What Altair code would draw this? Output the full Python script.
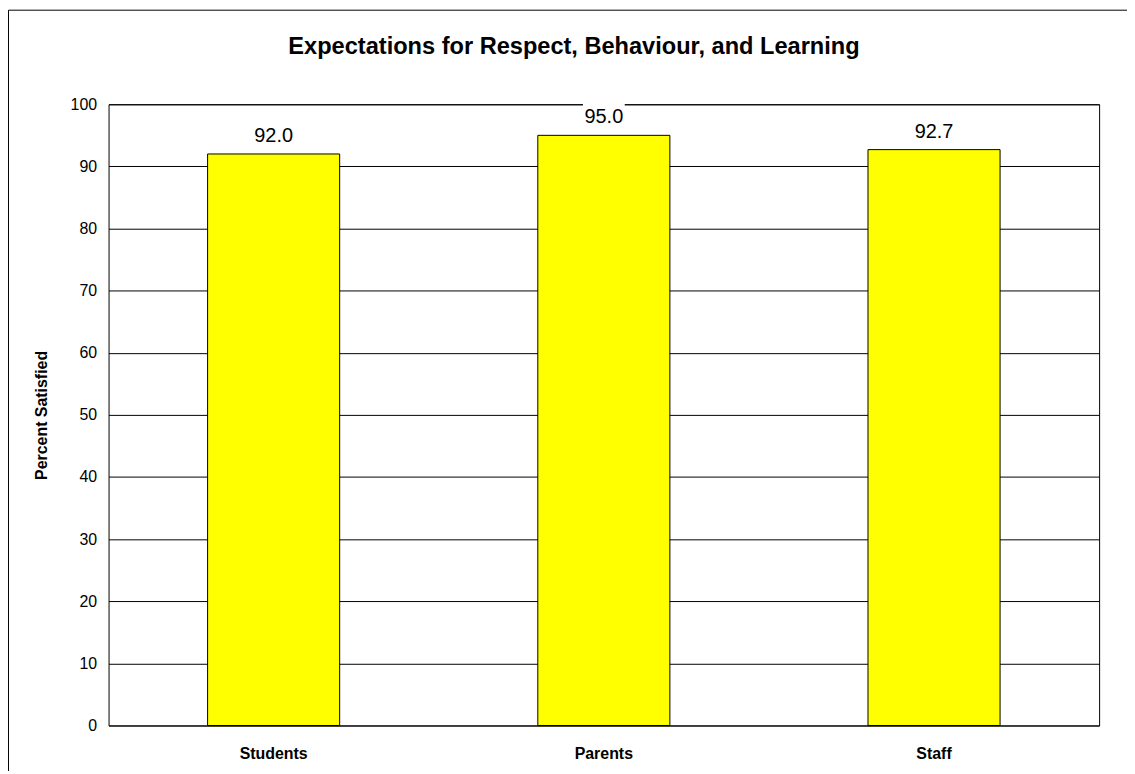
import altair as alt
import pandas as pd

groups = ["Students", "Parents", "Staff"]
satisfied = [92.0, 95.0, 92.7]
y_ticks = list(range(0, 101, 10))

df = pd.DataFrame({"group": groups, "pct": satisfied})

FONT = "Liberation Sans"

x_enc = alt.X(
    "group:N", sort=groups, title=None,
    scale=alt.Scale(paddingInner=0.6, paddingOuter=0.3),
    axis=alt.Axis(labelAngle=0, labelFont=FONT, labelFontSize=16, labelFontWeight="bold",
                  labelColor="black", labelPadding=20, ticks=False, tickSize=0, domain=False)
)
y_enc = alt.Y(
    "pct:Q", scale=alt.Scale(domain=[0, 100], nice=False),
    axis=alt.Axis(values=y_ticks, title="Percent Satisfied", titleFont=FONT, titleFontSize=16,
                  titleFontWeight="bold", titleColor="black", titleAngle=270, titleX=-67, titleY=312,
                  titleAlign="center", titleBaseline="middle",
                  labelFont=FONT, labelFontSize=16, labelColor="black", labelPadding=12,
                  ticks=False, tickSize=0, domain=False,
                  grid=True, gridColor="black", gridWidth=1, gridOpacity=1)
)

base = alt.Chart(df)

bars = base.mark_bar(color="#FFFF00", stroke="black", strokeWidth=1).encode(x=x_enc, y=y_enc)

# white box behind the value labels (hides lines under the text)
label_bg = base.mark_bar(color="white", width=42, yOffset=-34, y2Offset=-10).encode(
    x=alt.X("group:N", sort=groups), y=alt.Y("pct:Q"), y2=alt.Y2("pct")
)

labels = base.mark_text(font=FONT, fontSize=20, color="black", baseline="alphabetic", dy=-12).encode(
    x=alt.X("group:N", sort=groups), y=alt.Y("pct:Q"), text=alt.Text("pct:Q", format=".1f")
)

frame_src = alt.Chart(pd.DataFrame({"frame": [0]}))
frame_top = frame_src.mark_rule(color="black", strokeWidth=1).encode(
    x=alt.value(-100.5), x2=alt.value(1100), y=alt.value(-94.5)
)
frame_left = frame_src.mark_rule(color="black", strokeWidth=1).encode(
    x=alt.value(-100.5), y=alt.value(-94.5), y2=alt.value(700)
)

chart = alt.layer(bars, label_bg, labels, frame_top, frame_left).properties(
    width=995,
    height=624,
    autosize=alt.AutoSizeParams(type="none"),
    padding={"left": 101, "top": 95, "right": 28, "bottom": 44},
    title=alt.TitleParams(
        "Expectations for Respect, Behaviour, and Learning",
        font=FONT, fontSize=23.7, fontWeight="bold", color="black",
        anchor="middle", dx=-30, offset=-68, baseline="alphabetic",
    ),
).configure_view(stroke="black", strokeWidth=1)

chart.save("out.html", embed_options={"renderer": "svg", "actions": False})
